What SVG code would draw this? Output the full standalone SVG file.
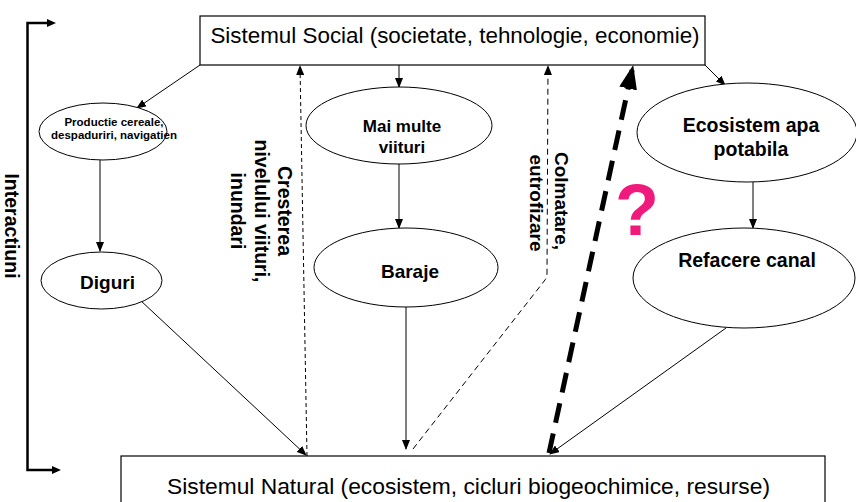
<svg xmlns="http://www.w3.org/2000/svg" width="856" height="502" viewBox="0 0 856 502">
<style>
.box{fill:#fff;stroke:#000;stroke-width:1.2}
.ell{fill:#fff;stroke:#000;stroke-width:1}
.t{font-family:"Liberation Sans",Arial,sans-serif;fill:#000}
.b{font-weight:bold}
.ln{fill:none;stroke:#000;stroke-width:1}
</style>
<defs>
<marker id="ah" markerUnits="userSpaceOnUse" markerWidth="10" markerHeight="8" refX="9" refY="4" orient="auto">
<path d="M0,0 L10,4 L0,8 Z" fill="#000"/>
</marker>
<marker id="ahb" markerUnits="userSpaceOnUse" markerWidth="24" markerHeight="18" refX="23" refY="9" orient="auto">
<path d="M0,0 L24,9 L0,18 Z" fill="#000"/>
</marker>
</defs>

<g id="interactiuni">
<path d="M50,23 L27.5,23 L27.5,470 L57,470" fill="none" stroke="#000" stroke-width="2.5"/>
<path d="M47,19 L56,23 L47,27 Z" fill="#000"/>
<path d="M52,466 L61,470 L52,474 Z" fill="#000"/>
<text class="t b" font-size="19.5" text-anchor="middle" transform="translate(5,226) rotate(90)">Interactiuni</text>
</g>

<g id="connectors">
<line class="ln" x1="200" y1="65" x2="137" y2="108" marker-end="url(#ah)"/>
<line class="ln" x1="100" y1="160" x2="100" y2="251" marker-end="url(#ah)"/>
<line class="ln" x1="140" y1="300" x2="306" y2="455" marker-end="url(#ah)"/>
<line class="ln" x1="399" y1="65" x2="399" y2="87" marker-end="url(#ah)"/>
<line class="ln" x1="399" y1="164" x2="399" y2="228" marker-end="url(#ah)"/>
<line class="ln" x1="406" y1="307" x2="406" y2="449" marker-end="url(#ah)"/>
<line class="ln" x1="705" y1="65" x2="725" y2="85" marker-end="url(#ah)"/>
<line class="ln" x1="753" y1="182" x2="753" y2="228" marker-end="url(#ah)"/>
<line class="ln" x1="726" y1="328" x2="550" y2="454" marker-end="url(#ah)"/>
<line class="ln" x1="307" y1="456" x2="300" y2="66" stroke-dasharray="4,3" marker-end="url(#ah)"/>
<path class="ln" d="M413,449 L545,280 Q547,277 547,273 L548,66" stroke-dasharray="6,4" stroke-width="1.3" marker-end="url(#ah)"/>
<line x1="549" y1="453" x2="633" y2="66" stroke="#000" stroke-width="5" stroke-dasharray="20,11" marker-end="url(#ahb)"/>
</g>

<g id="social">
<rect class="box" x="200" y="16" width="505" height="49"/>
<text class="t" x="455" y="43" font-size="22.4" text-anchor="middle">Sistemul Social (societate, tehnologie, economie)</text>
</g>

<g id="natural">
<rect class="box" x="121" y="456" width="704" height="60"/>
<text class="t" x="468.5" y="494" font-size="22.8" text-anchor="middle">Sistemul Natural (ecosistem, cicluri biogeochimice, resurse)</text>
</g>

<g id="productie">
<ellipse class="ell" cx="103" cy="131.5" rx="64" ry="28.5"/>
<text class="t b" font-size="11.5" text-anchor="middle"><tspan x="114" y="126">Productie cereale,</tspan><tspan x="114" y="139">despaduriri, navigatien</tspan></text>
</g>

<g id="diguri">
<ellipse class="ell" cx="101.5" cy="280.5" rx="60.5" ry="28.5"/>
<text class="t b" x="107.5" y="289" font-size="19" text-anchor="middle">Diguri</text>
</g>

<g id="viituri">
<ellipse class="ell" cx="399" cy="125.5" rx="93" ry="38.5"/>
<text class="t b" font-size="17" text-anchor="middle"><tspan x="402" y="132">Mai multe</tspan><tspan x="402" y="153">viituri</tspan></text>
</g>

<g id="baraje">
<ellipse class="ell" cx="406" cy="267.5" rx="92" ry="39.5"/>
<text class="t b" x="410" y="278" font-size="19" text-anchor="middle">Baraje</text>
</g>

<g id="ecosistem">
<ellipse class="ell" cx="747" cy="132.5" rx="110" ry="49.5"/>
<text class="t b" font-size="19.5" text-anchor="middle"><tspan x="751" y="132">Ecosistem apa</tspan><tspan x="751" y="156">potabila</tspan></text>
</g>

<g id="refacere">
<ellipse class="ell" cx="744" cy="278" rx="111" ry="50"/>
<text class="t b" x="747" y="267" font-size="19.5" text-anchor="middle">Refacere canal</text>
</g>

<g id="label-crestere">
<text class="t b" font-size="19.5" text-anchor="middle" transform="translate(278,211) rotate(90)">Cresterea</text>
<text class="t b" font-size="19.5" text-anchor="middle" transform="translate(255,211) rotate(90)">nivelului viituri,</text>
<text class="t b" font-size="19.5" text-anchor="middle" transform="translate(231,211) rotate(90)">inundari</text>
</g>

<g id="label-colmatare">
<text class="t b" font-size="19" text-anchor="middle" transform="translate(555,201) rotate(90)">Colmatare,</text>
<text class="t b" font-size="19" text-anchor="middle" transform="translate(530,203) rotate(90)">eutrofizare</text>
</g>

<g id="question">
<text class="t b" x="637" y="235" font-size="72" text-anchor="middle" style="fill:#f01a7c">?</text>
</g>
</svg>
